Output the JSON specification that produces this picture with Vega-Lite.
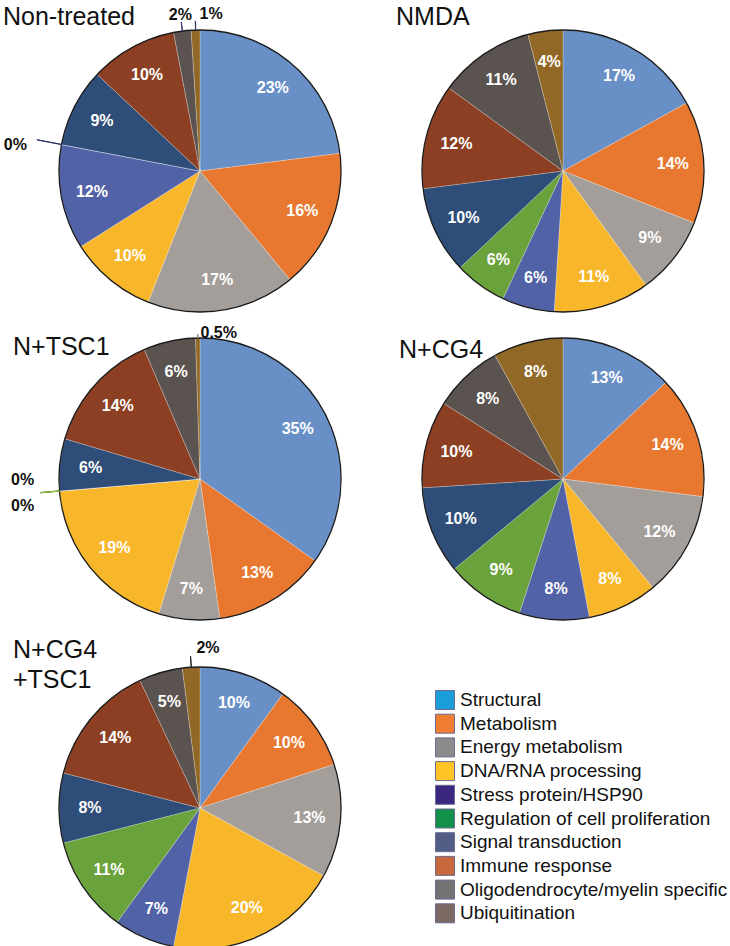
{
  "$schema": "https://vega.github.io/schema/vega-lite/v6.json",
  "padding": {"top": 5, "left": 0, "right": 0, "bottom": 0},
  "background": "white",
  "config": {
    "view": {"stroke": null},
    "title": {"font": "Liberation Sans", "fontSize": 25, "fontWeight": "normal", "color": "#111111", "anchor": "start", "offset": 4, "lineHeight": 30}
  },
  "datasets": {
    "pies": [
      {"chart": "Non-treated", "category": "Structural", "idx": 1, "value": 23},
      {"chart": "Non-treated", "category": "Metabolism", "idx": 2, "value": 16},
      {"chart": "Non-treated", "category": "Energy metabolism", "idx": 3, "value": 17},
      {"chart": "Non-treated", "category": "DNA/RNA processing", "idx": 4, "value": 10},
      {"chart": "Non-treated", "category": "Stress protein/HSP90", "idx": 5, "value": 12},
      {"chart": "Non-treated", "category": "Regulation of cell proliferation", "idx": 6, "value": 0},
      {"chart": "Non-treated", "category": "Signal transduction", "idx": 7, "value": 9},
      {"chart": "Non-treated", "category": "Immune response", "idx": 8, "value": 10},
      {"chart": "Non-treated", "category": "Oligodendrocyte/myelin specific", "idx": 9, "value": 2},
      {"chart": "Non-treated", "category": "Ubiquitination", "idx": 10, "value": 1},
      {"chart": "NMDA", "category": "Structural", "idx": 1, "value": 17},
      {"chart": "NMDA", "category": "Metabolism", "idx": 2, "value": 14},
      {"chart": "NMDA", "category": "Energy metabolism", "idx": 3, "value": 9},
      {"chart": "NMDA", "category": "DNA/RNA processing", "idx": 4, "value": 11},
      {"chart": "NMDA", "category": "Stress protein/HSP90", "idx": 5, "value": 6},
      {"chart": "NMDA", "category": "Regulation of cell proliferation", "idx": 6, "value": 6},
      {"chart": "NMDA", "category": "Signal transduction", "idx": 7, "value": 10},
      {"chart": "NMDA", "category": "Immune response", "idx": 8, "value": 12},
      {"chart": "NMDA", "category": "Oligodendrocyte/myelin specific", "idx": 9, "value": 11},
      {"chart": "NMDA", "category": "Ubiquitination", "idx": 10, "value": 4},
      {"chart": "N+TSC1", "category": "Structural", "idx": 1, "value": 35},
      {"chart": "N+TSC1", "category": "Metabolism", "idx": 2, "value": 13},
      {"chart": "N+TSC1", "category": "Energy metabolism", "idx": 3, "value": 7},
      {"chart": "N+TSC1", "category": "DNA/RNA processing", "idx": 4, "value": 19},
      {"chart": "N+TSC1", "category": "Stress protein/HSP90", "idx": 5, "value": 0},
      {"chart": "N+TSC1", "category": "Regulation of cell proliferation", "idx": 6, "value": 0},
      {"chart": "N+TSC1", "category": "Signal transduction", "idx": 7, "value": 6},
      {"chart": "N+TSC1", "category": "Immune response", "idx": 8, "value": 14},
      {"chart": "N+TSC1", "category": "Oligodendrocyte/myelin specific", "idx": 9, "value": 6},
      {"chart": "N+TSC1", "category": "Ubiquitination", "idx": 10, "value": 0.5},
      {"chart": "N+CG4", "category": "Structural", "idx": 1, "value": 13},
      {"chart": "N+CG4", "category": "Metabolism", "idx": 2, "value": 14},
      {"chart": "N+CG4", "category": "Energy metabolism", "idx": 3, "value": 12},
      {"chart": "N+CG4", "category": "DNA/RNA processing", "idx": 4, "value": 8},
      {"chart": "N+CG4", "category": "Stress protein/HSP90", "idx": 5, "value": 8},
      {"chart": "N+CG4", "category": "Regulation of cell proliferation", "idx": 6, "value": 9},
      {"chart": "N+CG4", "category": "Signal transduction", "idx": 7, "value": 10},
      {"chart": "N+CG4", "category": "Immune response", "idx": 8, "value": 10},
      {"chart": "N+CG4", "category": "Oligodendrocyte/myelin specific", "idx": 9, "value": 8},
      {"chart": "N+CG4", "category": "Ubiquitination", "idx": 10, "value": 8},
      {"chart": "N+CG4+TSC1", "category": "Structural", "idx": 1, "value": 10},
      {"chart": "N+CG4+TSC1", "category": "Metabolism", "idx": 2, "value": 10},
      {"chart": "N+CG4+TSC1", "category": "Energy metabolism", "idx": 3, "value": 13},
      {"chart": "N+CG4+TSC1", "category": "DNA/RNA processing", "idx": 4, "value": 20},
      {"chart": "N+CG4+TSC1", "category": "Stress protein/HSP90", "idx": 5, "value": 7},
      {"chart": "N+CG4+TSC1", "category": "Regulation of cell proliferation", "idx": 6, "value": 11},
      {"chart": "N+CG4+TSC1", "category": "Signal transduction", "idx": 7, "value": 8},
      {"chart": "N+CG4+TSC1", "category": "Immune response", "idx": 8, "value": 14},
      {"chart": "N+CG4+TSC1", "category": "Oligodendrocyte/myelin specific", "idx": 9, "value": 5},
      {"chart": "N+CG4+TSC1", "category": "Ubiquitination", "idx": 10, "value": 2}
    ],
    "legendrows": [
      {"category": "Structural"},
      {"category": "Metabolism"},
      {"category": "Energy metabolism"},
      {"category": "DNA/RNA processing"},
      {"category": "Stress protein/HSP90"},
      {"category": "Regulation of cell proliferation"},
      {"category": "Signal transduction"},
      {"category": "Immune response"},
      {"category": "Oligodendrocyte/myelin specific"},
      {"category": "Ubiquitination"}
    ]
  },
  "columns": 2,
  "align": "each",
  "spacing": {"row": 0, "column": 0},
  "bounds": "flush",
  "resolve": {"scale": {"fill": "independent"}, "legend": {"fill": "independent"}},
  "concat": [
    {
      "width": 400, "height": 266,
      "title": {"text": "Non-treated", "dx": 3, "dy": 28},
      "data": {"name": "pies"},
      "transform": [
        {"filter": {"field": "chart", "equal": "Non-treated"}},
        {"stack": "value", "groupby": [], "sort": [{"field": "idx"}], "offset": "normalize", "as": ["v0", "v1"]},
        {"calculate": "(datum.v0 + datum.v1) / 2", "as": "mid"},
        {"calculate": "datum.mid + 0.0002", "as": "mid2"},
        {"calculate": "datum.value + '%'", "as": "label"}
      ],
      "layer": [
        {"mark": {"type": "arc", "radius": 141, "stroke": "#ffffff", "strokeWidth": 0.4, "strokeOpacity": 0.6},
         "encoding": {"theta": {"field": "v0", "type": "quantitative", "stack": null, "scale": {"domain": [0, 1]}}, "theta2": {"field": "v1"},
           "color": {"field": "category", "type": "nominal", "legend": null, "scale": {"domain": ["Structural", "Metabolism", "Energy metabolism", "DNA/RNA processing", "Stress protein/HSP90", "Regulation of cell proliferation", "Signal transduction", "Immune response", "Oligodendrocyte/myelin specific", "Ubiquitination"], "range": ["#6890c6", "#e8782f", "#a39e9a", "#f8b62a", "#5262a6", "#6aa23c", "#2e4d78", "#8c3f22", "#5b534f", "#926826"]}}}},
        {"transform": [{"aggregate": [{"op": "count", "as": "n"}]}], "mark": {"type": "arc", "radius": 141, "theta": 0, "theta2": 6.2832, "filled": false, "stroke": "#1a1a1a", "strokeWidth": 1.3}, "encoding": {}},
        {"transform": [{"filter": "datum.value > 0 && datum.value < 3"}], "mark": {"type": "arc", "radius": 150, "radius2": 141, "filled": false, "stroke": "#2a3060", "strokeWidth": 1},
         "encoding": {"theta": {"field": "mid", "type": "quantitative", "stack": null}, "theta2": {"field": "mid2"}}},
        {"transform": [{"filter": "datum.value == 0"}], "mark": {"type": "arc", "radius": 166, "radius2": 141, "filled": false, "stroke": "#2a3060", "strokeWidth": 1},
         "encoding": {"theta": {"field": "mid", "type": "quantitative", "stack": null}, "theta2": {"field": "mid2"}}},
        {"transform": [{"filter": "datum.value >= 3"}], "mark": {"type": "text", "radius": 110, "fill": "white", "fontWeight": "bold", "fontSize": 16, "font": "Liberation Sans"},
         "encoding": {"theta": {"field": "mid", "type": "quantitative", "stack": null}, "text": {"field": "label"}}},
        {"transform": [{"filter": "datum.value > 0 && datum.value < 3 && datum.category != 'Ubiquitination'"}], "mark": {"type": "text", "radius": 157, "fill": "#111111", "fontWeight": "bold", "fontSize": 16, "font": "Liberation Sans"},
         "encoding": {"theta": {"field": "mid", "type": "quantitative", "stack": null}, "text": {"field": "label"}}},
        {"transform": [{"filter": "datum.value > 0 && datum.value < 3 && datum.category == 'Ubiquitination'"}], "mark": {"type": "text", "radius": 157, "dx": 16, "fill": "#111111", "fontWeight": "bold", "fontSize": 16, "font": "Liberation Sans"},
         "encoding": {"theta": {"field": "mid", "type": "quantitative", "stack": null}, "text": {"field": "label"}}},
        {"transform": [{"filter": "datum.value == 0"}], "mark": {"type": "text", "radius": 188, "dy": 9, "fill": "#111111", "fontWeight": "bold", "fontSize": 16, "font": "Liberation Sans"},
         "encoding": {"theta": {"field": "mid", "type": "quantitative", "stack": null}, "text": {"field": "label"}}}
      ]
    },
    {
      "width": 326, "height": 266,
      "title": {"text": "NMDA", "dx": -4, "dy": 7},
      "data": {"name": "pies"},
      "transform": [
        {"filter": {"field": "chart", "equal": "NMDA"}},
        {"stack": "value", "groupby": [], "sort": [{"field": "idx"}], "offset": "normalize", "as": ["v0", "v1"]},
        {"calculate": "(datum.v0 + datum.v1) / 2", "as": "mid"},
        {"calculate": "datum.value + '%'", "as": "label"}
      ],
      "layer": [
        {"mark": {"type": "arc", "radius": 141, "stroke": "#ffffff", "strokeWidth": 0.4, "strokeOpacity": 0.6},
         "encoding": {"theta": {"field": "v0", "type": "quantitative", "stack": null, "scale": {"domain": [0, 1]}}, "theta2": {"field": "v1"},
           "color": {"field": "category", "type": "nominal", "legend": null, "scale": {"domain": ["Structural", "Metabolism", "Energy metabolism", "DNA/RNA processing", "Stress protein/HSP90", "Regulation of cell proliferation", "Signal transduction", "Immune response", "Oligodendrocyte/myelin specific", "Ubiquitination"], "range": ["#6890c6", "#e8782f", "#a39e9a", "#f8b62a", "#5262a6", "#6aa23c", "#2e4d78", "#8c3f22", "#5b534f", "#926826"]}}}},
        {"transform": [{"aggregate": [{"op": "count", "as": "n"}]}], "mark": {"type": "arc", "radius": 141, "theta": 0, "theta2": 6.2832, "filled": false, "stroke": "#1a1a1a", "strokeWidth": 1.3}, "encoding": {}},
        {"transform": [{"filter": "datum.value >= 3"}], "mark": {"type": "text", "radius": 110, "fill": "white", "fontWeight": "bold", "fontSize": 16, "font": "Liberation Sans"},
         "encoding": {"theta": {"field": "mid", "type": "quantitative", "stack": null}, "text": {"field": "label"}}}
      ]
    },
    {
      "width": 400, "height": 350,
      "title": {"text": "N+TSC1", "dx": 13, "dy": 60},
      "data": {"name": "pies"},
      "transform": [
        {"filter": {"field": "chart", "equal": "N+TSC1"}},
        {"stack": "value", "groupby": [], "sort": [{"field": "idx"}], "offset": "normalize", "as": ["v0", "v1"]},
        {"calculate": "(datum.v0 + datum.v1) / 2", "as": "mid"},
        {"calculate": "datum.mid + 0.0002", "as": "mid2"},
        {"calculate": "datum.value + '%'", "as": "label"}
      ],
      "layer": [
        {"mark": {"type": "arc", "radius": 141, "stroke": "#ffffff", "strokeWidth": 0.4, "strokeOpacity": 0.6},
         "encoding": {"theta": {"field": "v0", "type": "quantitative", "stack": null, "scale": {"domain": [0, 1]}}, "theta2": {"field": "v1"},
           "color": {"field": "category", "type": "nominal", "legend": null, "scale": {"domain": ["Structural", "Metabolism", "Energy metabolism", "DNA/RNA processing", "Stress protein/HSP90", "Regulation of cell proliferation", "Signal transduction", "Immune response", "Oligodendrocyte/myelin specific", "Ubiquitination"], "range": ["#6890c6", "#e8782f", "#a39e9a", "#f8b62a", "#5262a6", "#6aa23c", "#2e4d78", "#8c3f22", "#5b534f", "#926826"]}}}},
        {"transform": [{"aggregate": [{"op": "count", "as": "n"}]}], "mark": {"type": "arc", "radius": 141, "theta": 0, "theta2": 6.2832, "filled": false, "stroke": "#1a1a1a", "strokeWidth": 1.3}, "encoding": {}},
        {"transform": [{"filter": "datum.value > 0 && datum.value < 3"}], "mark": {"type": "arc", "radius": 145, "radius2": 141, "filled": false, "stroke": "#8a8a8a", "strokeWidth": 1},
         "encoding": {"theta": {"field": "mid", "type": "quantitative", "stack": null}, "theta2": {"field": "mid2"}}},
        {"transform": [{"filter": "datum.value == 0 && datum.category != 'Regulation of cell proliferation'"}], "mark": {"type": "arc", "radius": 160, "radius2": 141, "filled": false, "stroke": "#222222", "strokeWidth": 1},
         "encoding": {"theta": {"field": "mid", "type": "quantitative", "stack": null}, "theta2": {"field": "mid2"}}},
        {"transform": [{"filter": "datum.value == 0 && datum.category == 'Regulation of cell proliferation'"}], "mark": {"type": "arc", "radius": 160, "radius2": 141, "filled": false, "stroke": "#8cc63f", "strokeWidth": 1},
         "encoding": {"theta": {"field": "mid", "type": "quantitative", "stack": null}, "theta2": {"field": "mid2"}}},
        {"transform": [{"filter": "datum.value >= 3"}], "mark": {"type": "text", "radius": 110, "fill": "white", "fontWeight": "bold", "fontSize": 16, "font": "Liberation Sans"},
         "encoding": {"theta": {"field": "mid", "type": "quantitative", "stack": null}, "text": {"field": "label"}}},
        {"transform": [{"filter": "datum.value > 0 && datum.value < 3"}], "mark": {"type": "text", "radius": 146, "dx": 21, "fill": "#111111", "fontWeight": "bold", "fontSize": 16, "font": "Liberation Sans"},
         "encoding": {"theta": {"field": "mid", "type": "quantitative", "stack": null}, "text": {"field": "label"}}},
        {"transform": [{"filter": "datum.value == 0 && datum.category == 'Regulation of cell proliferation'"}], "mark": {"type": "text", "radius": 178, "dy": 12, "fill": "#111111", "fontWeight": "bold", "fontSize": 16, "font": "Liberation Sans"},
         "encoding": {"theta": {"field": "mid", "type": "quantitative", "stack": null}, "text": {"field": "label"}}},
        {"transform": [{"filter": "datum.value == 0 && datum.category != 'Regulation of cell proliferation'"}], "mark": {"type": "text", "radius": 178, "dy": -14, "fill": "#111111", "fontWeight": "bold", "fontSize": 16, "font": "Liberation Sans"},
         "encoding": {"theta": {"field": "mid", "type": "quantitative", "stack": null}, "text": {"field": "label"}}}
      ]
    },
    {
      "width": 326, "height": 350,
      "title": {"text": "N+CG4", "dx": -1, "dy": 63},
      "data": {"name": "pies"},
      "transform": [
        {"filter": {"field": "chart", "equal": "N+CG4"}},
        {"stack": "value", "groupby": [], "sort": [{"field": "idx"}], "offset": "normalize", "as": ["v0", "v1"]},
        {"calculate": "(datum.v0 + datum.v1) / 2", "as": "mid"},
        {"calculate": "datum.value + '%'", "as": "label"}
      ],
      "layer": [
        {"mark": {"type": "arc", "radius": 141, "stroke": "#ffffff", "strokeWidth": 0.4, "strokeOpacity": 0.6},
         "encoding": {"theta": {"field": "v0", "type": "quantitative", "stack": null, "scale": {"domain": [0, 1]}}, "theta2": {"field": "v1"},
           "color": {"field": "category", "type": "nominal", "legend": null, "scale": {"domain": ["Structural", "Metabolism", "Energy metabolism", "DNA/RNA processing", "Stress protein/HSP90", "Regulation of cell proliferation", "Signal transduction", "Immune response", "Oligodendrocyte/myelin specific", "Ubiquitination"], "range": ["#6890c6", "#e8782f", "#a39e9a", "#f8b62a", "#5262a6", "#6aa23c", "#2e4d78", "#8c3f22", "#5b534f", "#926826"]}}}},
        {"transform": [{"aggregate": [{"op": "count", "as": "n"}]}], "mark": {"type": "arc", "radius": 141, "theta": 0, "theta2": 6.2832, "filled": false, "stroke": "#1a1a1a", "strokeWidth": 1.3}, "encoding": {}},
        {"transform": [{"filter": "datum.value >= 3"}], "mark": {"type": "text", "radius": 110, "fill": "white", "fontWeight": "bold", "fontSize": 16, "font": "Liberation Sans"},
         "encoding": {"theta": {"field": "mid", "type": "quantitative", "stack": null}, "text": {"field": "label"}}}
      ]
    },
    {
      "width": 400, "height": 308,
      "title": {"text": ["N+CG4", "+TSC1"], "dx": 13, "dy": 57},
      "data": {"name": "pies"},
      "transform": [
        {"filter": {"field": "chart", "equal": "N+CG4+TSC1"}},
        {"stack": "value", "groupby": [], "sort": [{"field": "idx"}], "offset": "normalize", "as": ["v0", "v1"]},
        {"calculate": "(datum.v0 + datum.v1) / 2", "as": "mid"},
        {"calculate": "datum.mid + 0.0002", "as": "mid2"},
        {"calculate": "datum.value + '%'", "as": "label"}
      ],
      "layer": [
        {"mark": {"type": "arc", "radius": 141, "stroke": "#ffffff", "strokeWidth": 0.4, "strokeOpacity": 0.6},
         "encoding": {"theta": {"field": "v0", "type": "quantitative", "stack": null, "scale": {"domain": [0, 1]}}, "theta2": {"field": "v1"},
           "color": {"field": "category", "type": "nominal", "legend": null, "scale": {"domain": ["Structural", "Metabolism", "Energy metabolism", "DNA/RNA processing", "Stress protein/HSP90", "Regulation of cell proliferation", "Signal transduction", "Immune response", "Oligodendrocyte/myelin specific", "Ubiquitination"], "range": ["#6890c6", "#e8782f", "#a39e9a", "#f8b62a", "#5262a6", "#6aa23c", "#2e4d78", "#8c3f22", "#5b534f", "#926826"]}}}},
        {"transform": [{"aggregate": [{"op": "count", "as": "n"}]}], "mark": {"type": "arc", "radius": 141, "theta": 0, "theta2": 6.2832, "filled": false, "stroke": "#1a1a1a", "strokeWidth": 1.3}, "encoding": {}},
        {"transform": [{"filter": "datum.value < 3"}], "mark": {"type": "arc", "radius": 152, "radius2": 141, "filled": false, "stroke": "#222222", "strokeWidth": 1},
         "encoding": {"theta": {"field": "mid", "type": "quantitative", "stack": null}, "theta2": {"field": "mid2"}}},
        {"transform": [{"filter": "datum.value >= 3"}], "mark": {"type": "text", "radius": 110, "fill": "white", "fontWeight": "bold", "fontSize": 16, "font": "Liberation Sans"},
         "encoding": {"theta": {"field": "mid", "type": "quantitative", "stack": null}, "text": {"field": "label"}}},
        {"transform": [{"filter": "datum.value > 0 && datum.value < 3"}], "mark": {"type": "text", "radius": 160, "dx": 18, "fill": "#111111", "fontWeight": "bold", "fontSize": 16, "font": "Liberation Sans"},
         "encoding": {"theta": {"field": "mid", "type": "quantitative", "stack": null}, "text": {"field": "label"}}}
      ]
    },
    {
      "width": 326, "height": 308,
      "data": {"name": "legendrows"},
      "mark": {"type": "square", "opacity": 0},
      "encoding": {
        "fill": {"field": "category", "type": "nominal",
          "scale": {"domain": ["Structural", "Metabolism", "Energy metabolism", "DNA/RNA processing", "Stress protein/HSP90", "Regulation of cell proliferation", "Signal transduction", "Immune response", "Oligodendrocyte/myelin specific", "Ubiquitination"], "range": ["#1b9dd9", "#ef7e33", "#8b8b8b", "#ffc425", "#3b2780", "#12914b", "#525d85", "#c7683f", "#737373", "#7b6a64"]},
          "legend": {"orient": "none", "legendX": 35, "legendY": 36, "title": null, "symbolType": "square", "symbolSize": 361, "symbolOpacity": 1, "symbolStrokeColor": "#6b6a90", "symbolStrokeWidth": 1, "labelFontSize": 19, "labelFont": "Liberation Sans", "labelColor": "#111111", "rowPadding": -0.3, "labelOffset": 5, "labelLimit": 400}}
      }
    }
  ]
}
